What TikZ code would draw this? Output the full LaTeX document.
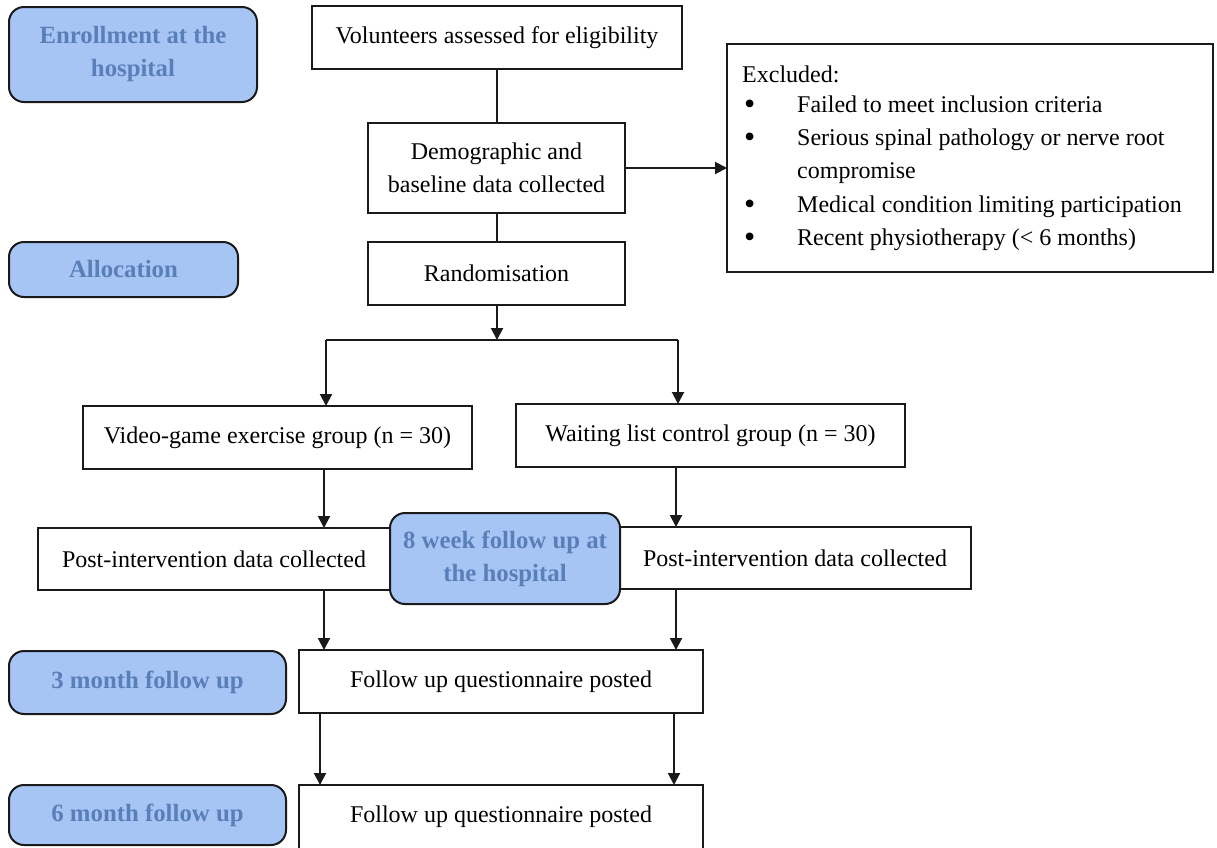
\documentclass[tikz,border=0pt]{standalone}
\usepackage{fontspec}
\setmainfont{Liberation Serif}
\usetikzlibrary{arrows.meta}
\definecolor{lblue}{HTML}{A6C5F5}
\definecolor{tblue}{HTML}{5A7FB8}
\definecolor{edge}{HTML}{1A1A1A}
\begin{document}
\begin{tikzpicture}[x=1pt,y=-1pt,
  box/.style={draw=edge, line width=2pt, fill=white, inner sep=0pt, outer sep=0pt,
    font=\fontsize{24}{33}\selectfont, align=center},
  lab/.style={draw=edge, line width=2pt, fill=lblue, rounded corners=15pt, inner sep=0pt, outer sep=0pt,
    text=tblue, font=\fontsize{24.8}{33}\selectfont\bfseries, align=center},
  txt/.style={anchor=base west, inner sep=0pt, font=\fontsize{24}{33}\selectfont},
  bul/.style={anchor=base west, inner sep=0pt, font=\fontsize{32}{33}\selectfont},
  arr/.style={line width=2pt, draw=edge, -{Triangle[length=12pt,width=12pt]}},
  ln/.style={line width=2pt, draw=edge}]
\useasboundingbox (0,0) rectangle (1217,847);
\clip (0,0) rectangle (1217,847);

% left stage labels
\node[lab, minimum width=248pt, minimum height=95pt] (enr) at (133,54.5) {Enrollment at the\\hospital};
\node[lab, minimum width=229pt, minimum height=55pt] (alloc) at (123.5,269.5) {Allocation};
\node[lab, minimum width=277pt, minimum height=63pt] (m3) at (147.5,682.5) {3 month follow up};
\node[lab, minimum width=277pt, minimum height=60pt] (m6) at (147.5,815) {6 month follow up};

% main flow
\node[box, minimum width=370pt, minimum height=63pt] (vol) at (497,37.5) {Volunteers assessed for eligibility};
\node[box, minimum width=257pt, minimum height=90pt] (demo) at (496.5,168) {Demographic and\\baseline data collected};
\node[box, minimum width=257pt, minimum height=63pt] (rand) at (496.5,273.5) {Randomisation};
\node[box, minimum width=486pt, minimum height=228pt] (excl) at (970,158) {};
\node[box, minimum width=389pt, minimum height=63pt] (video) at (277.5,437.5) {Video-game exercise group (n = 30)};
\node[box, minimum width=389pt, minimum height=63pt] (wait) at (710.5,435.5) {Waiting list control group (n = 30)};
\node[box, minimum width=352pt, minimum height=62pt] (postL) at (214,559) {Post-intervention data collected};
\node[box, minimum width=352pt, minimum height=62pt] (postR) at (795,558) {Post-intervention data collected};
\node[lab, minimum width=230pt, minimum height=91pt] (week) at (505,558.5) {8 week follow up at\\the hospital};
\node[box, minimum width=404pt, minimum height=63pt] (fu1) at (501,681.5) {Follow up questionnaire posted};
\node[box, minimum width=404pt, minimum height=64pt] (fu2) at (501,817) {Follow up questionnaire posted};

% excluded list
\node[txt] (ex0) at (742,82) {Excluded:};
\node[bul] (b1) at (744,114) {•};
\node[txt] (ex1) at (797,112) {Failed to meet inclusion criteria};
\node[bul] (b2) at (744,147) {•};
\node[txt] (ex2) at (797,145) {Serious spinal pathology or nerve root};
\node[txt] (ex3) at (797,178) {compromise};
\node[bul] (b4) at (744,214) {•};
\node[txt] (ex4) at (797,212) {Medical condition limiting participation};
\node[bul] (b5) at (744,247) {•};
\node[txt] (ex5) at (797,245) {Recent physiotherapy (< 6 months)};

% connectors
\draw[ln] (vol.south) -- (vol.south |- demo.north);
\draw[ln] (demo.south) -- (demo.south |- rand.north);
\draw[arr] (demo.east) -- (demo.east -| excl.west);

\coordinate (split) at (497,340);
\coordinate (sl) at (326,340);
\coordinate (sr) at (678,340);
\draw[arr] (rand.south -| split) -- (split);
\draw[ln] (sl) -- (sr);
\draw[arr] (sl) -- (sl |- video.north);
\draw[arr] (sr) -- (sr |- wait.north);

\coordinate (cl) at (324,0);
\coordinate (cr) at (676,0);
\draw[arr] (video.south -| cl) -- (postL.north -| cl);
\draw[arr] (wait.south -| cr) -- (postR.north -| cr);
\draw[arr] (postL.south -| cl) -- (fu1.north -| cl);
\draw[arr] (postR.south -| cr) -- (fu1.north -| cr);

\coordinate (dl) at (320,0);
\coordinate (dr) at (674,0);
\draw[arr] (fu1.south -| dl) -- (fu2.north -| dl);
\draw[arr] (fu1.south -| dr) -- (fu2.north -| dr);
\end{tikzpicture}
\end{document}
